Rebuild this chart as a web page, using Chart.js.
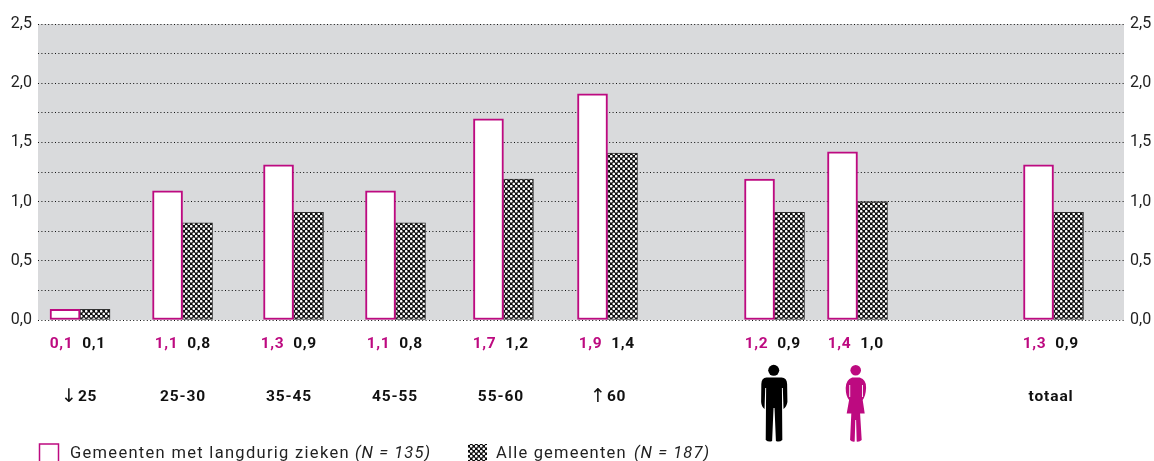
<!DOCTYPE html>
<html><head><meta charset="utf-8">
<style>html,body{margin:0;padding:0;background:#fff;overflow:hidden}#w{width:1154px;height:461px;position:relative}</style>
<script src="https://cdn.jsdelivr.net/npm/chart.js@4"></script>
</head><body><div id="w"><canvas id="c" width="1154" height="461"></canvas></div>
<script>
const categories = ['↓25','25-30','35-45','45-55','55-60','↑60','man','vrouw','totaal'];
const langdurigValues = [0.09,1.09,1.31,1.09,1.70,1.91,1.19,1.42,1.31];
const alleValues = [0.09,0.82,0.91,0.82,1.19,1.41,0.91,1.00,0.91];
const axisSlots = [3.87,13.31,23.53,32.92,42.86,52.44,67.82,75.46,93.51];
const labelSlots = [3.68,13.35,23.11,32.87,42.63,52.39,67.68,75.32,93.28];
const seriesNames = ['Gemeenten met langdurig zieken','Alle gemeenten'];
const seriesNotes = ['(N = 135)','(N = 187)'];

const MAGENTA='#bd0a80', INK='#111', FONT='Roboto, sans-serif';
function hatch(){
  const t=document.createElement('canvas');t.width=5;t.height=5;
  const g=t.getContext('2d');g.fillStyle='#0c0c0c';g.fillRect(0,0,5,5);
  g.fillStyle='#fff';
  [[1.25,1.25],[3.75,3.75]].forEach(p=>{g.beginPath();g.arc(p[0],p[1],1.3,0,Math.PI*2);g.fill();});
  return document.getElementById('c').getContext('2d').createPattern(t,'repeat');
}
const pattern=hatch();
function txt(ctx,s,x,y,font,color,align,spacing){
  ctx.font=font;ctx.fillStyle=color;ctx.textAlign=align||'center';ctx.textBaseline='alphabetic';
  ctx.letterSpacing=spacing||'0px';ctx.fillText(s,x,y);ctx.letterSpacing='0px';
}
function man(ctx,cx){
  ctx.save();ctx.translate(cx,0);ctx.fillStyle='#000';
  ctx.beginPath();ctx.arc(-0.8,370.3,5.5,0,Math.PI*2);ctx.fill();
  ctx.beginPath();ctx.moveTo(-8,377.6);ctx.lineTo(7,377.6);ctx.quadraticCurveTo(12.4,378,12.6,384);
  ctx.lineTo(12.9,402);ctx.quadraticCurveTo(12,407,9,409);ctx.lineTo(8.3,388);ctx.lineTo(7.4,388);
  ctx.lineTo(7.8,440);ctx.quadraticCurveTo(5,442.4,1.4,441);ctx.lineTo(0,408);ctx.lineTo(-1,408);
  ctx.lineTo(-2.4,441);ctx.quadraticCurveTo(-6,442.4,-8.8,440);ctx.lineTo(-8.4,388);ctx.lineTo(-9.3,388);
  ctx.lineTo(-10,409);ctx.quadraticCurveTo(-13,407,-13.4,402);ctx.lineTo(-13.2,384);ctx.quadraticCurveTo(-13,378,-8,377.6);
  ctx.closePath();ctx.fill();ctx.restore();
}
function woman(ctx,cx){
  ctx.save();ctx.translate(cx-0.8,0);ctx.fillStyle=MAGENTA;
  ctx.beginPath();ctx.arc(-1,370.3,5.3,0,Math.PI*2);ctx.fill();
  ctx.beginPath();ctx.moveTo(-4.5,377.6);ctx.lineTo(3,377.6);ctx.quadraticCurveTo(10,380,9.4,388);
  ctx.quadraticCurveTo(9,396,6,400);ctx.lineTo(8,413.5);ctx.lineTo(3.4,413.5);ctx.lineTo(5,440);
  ctx.quadraticCurveTo(3,442,0,441.6);ctx.lineTo(-0.6,420);ctx.lineTo(-1.4,420);ctx.lineTo(-2,441.6);
  ctx.quadraticCurveTo(-5,442,-6.6,440);ctx.lineTo(-5.4,413.5);ctx.lineTo(-10,413.5);ctx.lineTo(-7.6,400);
  ctx.quadraticCurveTo(-11,396,-11,388);ctx.quadraticCurveTo(-11,380,-4.5,377.6);ctx.closePath();ctx.fill();
  ctx.fillStyle='#fff';
  ctx.fillRect(5.3,385,0.9,12);ctx.fillRect(-7.4,385,0.9,12);
  ctx.restore();
}
const comma=v=>v.toFixed(1).replace('.',',');
const overlay={
  id:'overlay',
  beforeDraw(chart){
    const {ctx,chartArea:a}=chart;
    ctx.save();ctx.fillStyle='#d9dadc';ctx.fillRect(a.left,a.top,a.right-a.left,a.bottom-a.top);ctx.restore();
  },
  afterDraw(chart){
    const {ctx,scales}=chart;
    ctx.save();
    const bold='700 15.5px '+FONT;
    categories.forEach((c,i)=>{
      const x=scales.x.getPixelForValue(labelSlots[i]);
      txt(ctx,comma(langdurigValues[i]),x-16.5,347.5,bold,MAGENTA,'center','0.6px');
      txt(ctx,comma(alleValues[i]),x+16,347.5,bold,INK,'center','0.6px');
      const bx=scales.x.getPixelForValue(axisSlots[i]);
      if(c==='man') man(ctx,bx);
      else if(c==='vrouw') woman(ctx,bx);
      else if(c[0]==='↓'||c[0]==='↑'){
        txt(ctx,c[0],x-1,402,'400 19px "DejaVu Sans", sans-serif',INK,'right');
        txt(ctx,c.slice(1),x,400.5,bold,INK,'left','0.6px');
      }
      else txt(ctx,c,x,400.5,bold,INK,'center','0.9px');
    });
    // legend
    const reg='400 16.5px '+FONT, ital='italic 400 16.5px '+FONT;
    ctx.strokeStyle=MAGENTA;ctx.lineWidth=1.5;ctx.strokeRect(39.5,444,19,19);
    txt(ctx,seriesNames[0],70,458,reg,'#222','left','1.3px');
    txt(ctx,seriesNotes[0],355,458,ital,'#222','left','1.1px');
    ctx.fillStyle=pattern;ctx.fillRect(468,444,19,17);
    txt(ctx,seriesNames[1],496,458,reg,'#222','left','1.2px');
    txt(ctx,seriesNotes[1],634,458,ital,'#222','left','1.1px');
    ctx.restore();
  }
};
const yTicks={stepSize:0.25,color:'#222',font:{family:FONT,size:16},padding:6,autoSkip:false,
  callback:v=>Math.round(v*100)%50===0?comma(v):''};
new Chart(document.getElementById('c'),{
  type:'bar',
  data:{datasets:[
    {label:seriesNames[0],data:axisSlots.map((x,i)=>({x,y:langdurigValues[i]})),backgroundColor:'#fff',borderColor:MAGENTA,borderWidth:2,borderSkipped:false,barThickness:30},
    {label:seriesNames[1],data:axisSlots.map((x,i)=>({x,y:alleValues[i]})),backgroundColor:pattern,borderColor:'#333',borderWidth:1,borderSkipped:false,barThickness:30}
  ]},
  options:{
    responsive:false,animation:false,
    layout:{padding:{top:24,bottom:141,left:0,right:0}},
    plugins:{legend:{display:false},tooltip:{enabled:false}},
    scales:{
      x:{type:'linear',min:0,max:100,offset:false,display:false,grid:{display:false}},
      y:{position:'left',min:0,max:2.5,ticks:yTicks,
        grid:{color:'#111',lineWidth:1,drawTicks:false},border:{display:false,dash:[1,2.4]},
        afterFit(s){s.width=38;}},
      y2:{position:'right',min:0,max:2.5,ticks:yTicks,
        grid:{display:false,drawTicks:false},border:{display:false},
        afterFit(s){s.width=30;}}
    }
  },
  plugins:[overlay]
});
</script></body></html>
